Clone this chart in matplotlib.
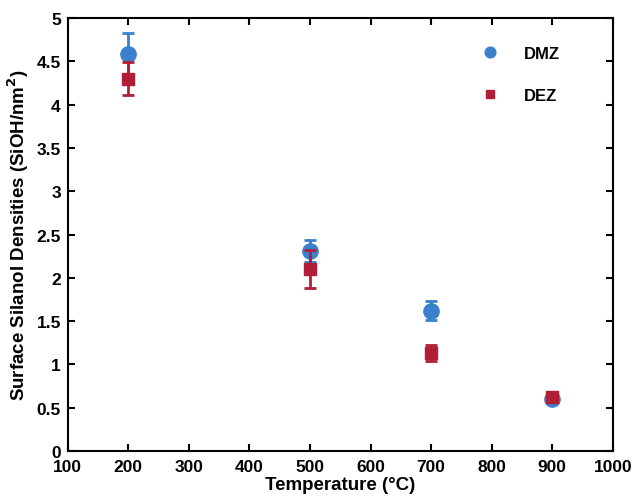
import matplotlib
matplotlib.use('Agg')
import matplotlib.pyplot as plt

plt.rcParams['font.family'] = ['Liberation Sans', 'DejaVu Sans']
plt.rcParams['font.weight'] = 'bold'

temps = [200, 500, 700, 900]
dmz = [4.58, 2.31, 1.62, 0.60]
dmz_err = [0.25, 0.13, 0.11, 0.03]
dez = [4.30, 2.10, 1.13, 0.62]
dez_err = [0.19, 0.22, 0.09, 0.03]

fig = plt.figure(figsize=(6.39, 5.02), dpi=100)
ax = fig.add_axes([0.106, 0.0996, 0.853, 0.8625])

ax.errorbar(temps, dmz, yerr=dmz_err, fmt='o', color='#3a80cc', markersize=11,
            elinewidth=2, capsize=4, capthick=2, label='DMZ', zorder=3)
ax.errorbar(temps, dez, yerr=dez_err, fmt='s', color='#b01e38', markersize=8.5,
            elinewidth=2, capsize=4, capthick=2, label='DEZ', zorder=4)

ax.set_xlim(100, 1000)
ax.set_ylim(0, 5)
ax.set_xticks(range(100, 1001, 100))
ax.set_yticks([0, 0.5, 1, 1.5, 2, 2.5, 3, 3.5, 4, 4.5, 5])
ax.set_yticklabels(['0', '0.5', '1', '1.5', '2', '2.5', '3', '3.5', '4', '4.5', '5'])
ax.tick_params(direction='in', top=True, right=True, length=5, width=1.5,
               labelsize=12.5)
ax.tick_params(axis='x', pad=6)
ax.tick_params(axis='y', pad=5)
for s in ax.spines.values():
    s.set_linewidth(1.5)

ax.set_xlabel('Temperature (°C)', fontsize=13.5, fontweight='bold', labelpad=1)
ax.set_ylabel('Surface Silanol Densities (SiOH/nm$^\\mathbf{2}$)', fontsize=13.5,
              fontweight='bold', labelpad=4)

handles, labels = ax.get_legend_handles_labels()
handles = [h[0] for h in handles]
ax.legend(handles, labels, loc='upper right', frameon=False, fontsize=12,
          bbox_to_anchor=(0.93, 0.97), labelspacing=1.6, markerscale=0.7,
          handletextpad=1.0)

fig.savefig('out.png', dpi=100)
